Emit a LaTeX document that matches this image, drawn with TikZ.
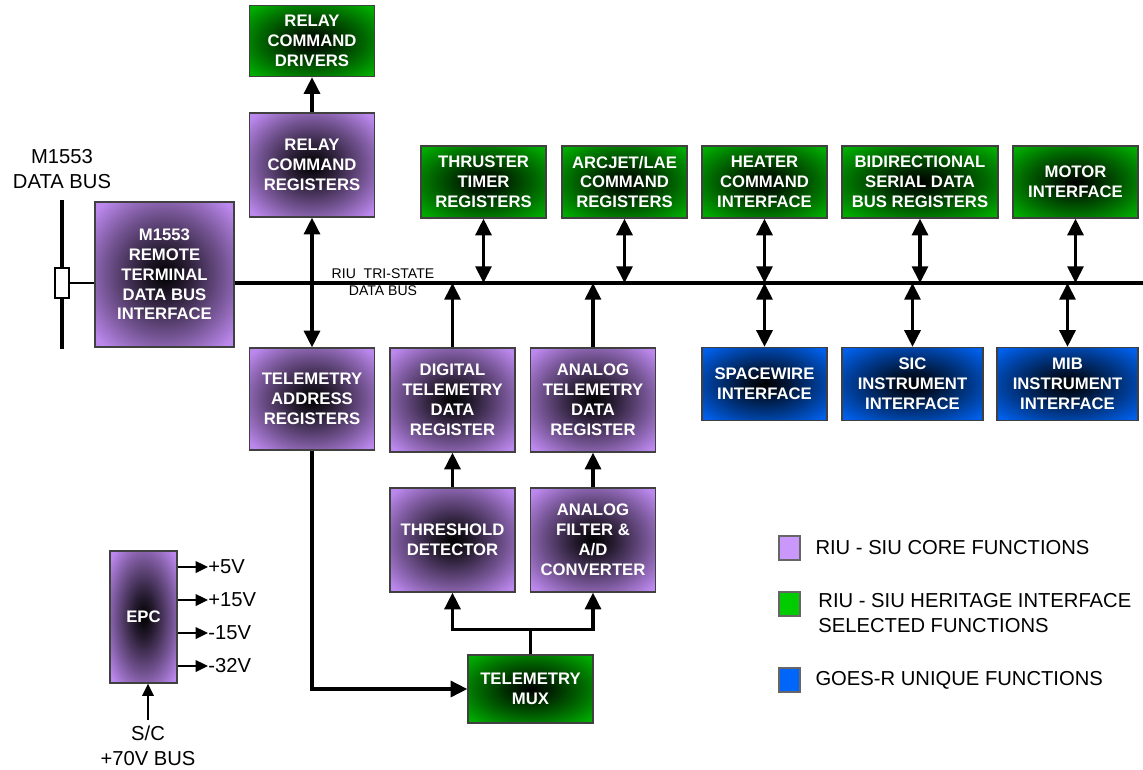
\documentclass[tikz,border=0pt]{standalone}
\usepackage{fontspec}
\setmainfont{Liberation Sans}
\usepackage{xcolor}
\usepackage{tikz}
\usetikzlibrary{
  arrows.meta,
  positioning,
  shadings
}

\definecolor{corepurple}{RGB}{188,136,238}
\definecolor{herigreen}{RGB}{0,172,0}
\definecolor{goesblue}{RGB}{0,96,236}
\definecolor{legpurple}{RGB}{202,152,250}
\definecolor{leggreen}{RGB}{0,204,0}
\definecolor{legblue}{RGB}{0,102,250}
\colorlet{coremid}{corepurple!60!black}
\colorlet{heremid}{herigreen!60!black}
\colorlet{goesmid}{goesblue!60!black}
\colorlet{coredark}{corepurple!20!black}
\colorlet{heredark}{herigreen!20!black}
\colorlet{goesdark}{goesblue!20!black}

\pgfdeclareradialshading{coreglow}{\pgfpoint{0bp}{0bp}}{%
  color(0bp)=(black); color(8bp)=(coredark); color(21bp)=(coremid); color(33bp)=(corepurple); color(80bp)=(corepurple)}
\pgfdeclareradialshading{heriglow}{\pgfpoint{0bp}{0bp}}{%
  color(0bp)=(black); color(8bp)=(heredark); color(21bp)=(heremid); color(33bp)=(herigreen); color(80bp)=(herigreen)}
\pgfdeclareradialshading{goesglow}{\pgfpoint{0bp}{0bp}}{%
  color(0bp)=(black); color(8bp)=(goesdark); color(21bp)=(goesmid); color(33bp)=(goesblue); color(80bp)=(goesblue)}

\begin{document}
\begin{tikzpicture}[
  x=0.02cm, y=-0.02cm,
  fbox/.style={draw=black!75, line width=0.7pt, align=center, text=white, inner sep=2pt,
               font=\bfseries\fontsize{9.5}{11.3}\selectfont, minimum width=2.5cm},
  core/.style={fbox, shade, shading=coreglow},
  heri/.style={fbox, shade, shading=heriglow},
  goes/.style={fbox, shade, shading=goesglow},
  wire/.style={line width=2pt},
  arr/.style={wire, -{Triangle[length=9.5pt,width=9pt]}},
  dbl/.style={wire, {Triangle[length=9.5pt,width=9pt]}-{Triangle[length=9.5pt,width=9pt]}},
  thinarr/.style={line width=1.2pt, -{Triangle[length=7pt,width=6.5pt]}},
  lab/.style={font=\fontsize{11.5}{14}\selectfont, align=center},
  legsq/.style={draw=black!60, line width=0.6pt, minimum width=0.42cm, minimum height=0.48cm, inner sep=0pt}
]
\useasboundingbox (0,0) rectangle (1143,769);

% core and heritage blocks
\node[heri, minimum height=1.42cm] (rcd) at (312,41) {RELAY\\COMMAND\\DRIVERS};
\node[core, minimum height=2.08cm] (rcr) at (312,165) {RELAY\\COMMAND\\REGISTERS};
\node[core, minimum width=2.78cm, minimum height=2.9cm] (rt) at (164.5,274.5)
  {M1553\\REMOTE\\TERMINAL\\DATA BUS\\INTERFACE};
\node[core, minimum height=2.04cm] (tar) at (312,399) {TELEMETRY\\ADDRESS\\REGISTERS};
\node[core, minimum height=2.08cm] (dtr) at (452.5,400) {DIGITAL\\TELEMETRY\\DATA\\REGISTER};
\node[core, minimum height=2.08cm] (atr) at (593,400) {ANALOG\\TELEMETRY\\DATA\\REGISTER};
\node[core, minimum height=2.08cm] (thd) at (452.5,540) {THRESHOLD\\DETECTOR};
\node[core, minimum height=2.08cm] (afc) at (593,540) {ANALOG\\FILTER \&\\A/D\\CONVERTER};
\node[heri, minimum height=1.36cm] (mux) at (530.5,689) {TELEMETRY\\MUX};
\node[core, minimum width=1.34cm, minimum height=2.64cm] (epc) at (143.5,617) {EPC};

% interfaces on the bus
\node[heri, minimum height=1.44cm] (ttr) at (483.5,182) {THRUSTER\\TIMER\\REGISTERS};
\node[heri, minimum height=1.44cm] (arc) at (624.5,182) {ARCJET/LAE\\COMMAND\\REGISTERS};
\node[heri, minimum height=1.44cm] (hci) at (764.5,182) {HEATER\\COMMAND\\INTERFACE};
\node[heri, minimum width=3.12cm, minimum height=1.44cm] (bsd) at (920,182)
  {BIDIRECTIONAL\\SERIAL DATA\\BUS REGISTERS};
\node[heri, minimum height=1.44cm] (mot) at (1075.5,182) {MOTOR\\INTERFACE};
\node[goes, minimum height=1.46cm] (spw) at (764.5,384) {SPACEWIRE\\INTERFACE};
\node[goes, minimum width=2.82cm, minimum height=1.46cm] (sic) at (912.5,384)
  {SIC\\INSTRUMENT\\INTERFACE};
\node[goes, minimum width=2.82cm, minimum height=1.46cm] (mib) at (1067.5,384)
  {MIB\\INSTRUMENT\\INTERFACE};

% M1553 data bus
\node[lab] (mlab) at (62,169) {M1553\\DATA BUS};
\coordinate (mbtop) at (62,200);
\coordinate (mbbot) at (62,349);
\draw[wire] (mbtop) -- (mbbot);
\node[draw, fill=white, line width=0.8pt, minimum width=0.28cm, minimum height=0.6cm, inner sep=0pt]
  (tap) at (62,283) {};
\draw[line width=1.1pt] (tap.east) -- (tap.east -| rt.west);

% tri-state bus
\coordinate (busend) at (1143,283);
\draw[wire] (rt.east |- busend) -- (busend);
\node[font=\fontsize{8}{9.6}\selectfont, align=center] (blab) at (383,282)
  {RIU\ \ TRI-STATE\\DATA BUS};

\draw[arr] (rcr) -- (rcd);
\draw[dbl] (rcr) -- (tar);
\foreach \n in {ttr, arc, hci, bsd, mot}
  \draw[dbl] (\n.south) -- (\n.south |- busend);
\foreach \n in {spw, sic, mib}
  \draw[dbl] (\n.north) -- (\n.north |- busend);
\draw[arr] (dtr.north) -- (dtr.north |- busend);
\draw[arr] (atr.north) -- (atr.north |- busend);
\draw[arr] (thd) -- (dtr);
\draw[arr] (afc) -- (atr);
\draw[arr] (mux.north) -- ++(0,-25) -| (thd.south);
\draw[arr] (mux.north) ++(0,-25) -| (afc.south);
\draw[arr] (tar.south) |- (mux.west);

% power
\foreach \volt/\yy in {+5V/567, +15V/600, -15V/633, -32V/666} {
  \node[lab, anchor=west, inner sep=0pt] (out\yy) at (208,\yy) {\volt};
  \draw[thinarr] (epc.east |- out\yy) -- (out\yy.west);
}
\node[lab] (sc) at (148,746) {S/C\\+70V BUS};
\draw[thinarr] (sc.north) -- (sc.north |- epc.south);

% legend
\node[legsq, fill=legpurple] (lp) at (789.5,548) {};
\node[legsq, fill=leggreen] (lg) at (789.5,604) {};
\node[legsq, fill=legblue] (lb) at (789.5,680) {};
\node[lab, right=5pt of lp] (tp) {RIU - SIU CORE FUNCTIONS};
\node[lab, align=left, anchor=north west, inner sep=0pt] (tg) at ([xshift=10pt,yshift=-1pt]lg.north east)
  {RIU - SIU HERITAGE INTERFACE\\SELECTED FUNCTIONS};
\node[lab, right=5pt of lb] (tb) {GOES-R UNIQUE FUNCTIONS};
\end{tikzpicture}
\end{document}
